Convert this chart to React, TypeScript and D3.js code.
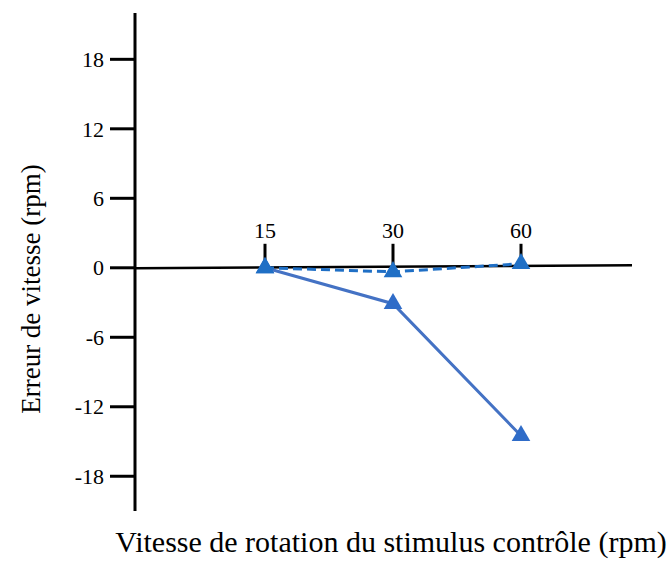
import React from "react";
import * as d3 from "d3";

const categories = ["15", "30", "60"];
const solidSeries = [0, -3.1, -14.5];
const dashedSeries = [0, -0.35, 0.35];
const yTicks = [18, 12, 6, 0, -6, -12, -18];

const W = 670;
const H = 561;

export default function App() {
  const x = d3.scalePoint<string>().domain(categories).range([265, 521]);
  const y = d3.scaleLinear().domain([-21, 22]).range([511, 13]);
  const line = d3
    .line<number>()
    .x((_, i) => x(categories[i]) as number)
    .y((d) => y(d));
  const tri = d3.symbol().type(d3.symbolTriangle).size(150)() as string;
  const font = "Liberation Serif, DejaVu Serif, Times New Roman, serif";
  const x0 = 135;
  const y0 = y(0);
  return (
    <svg
      width={W}
      height={H}
      style={{ position: "absolute", left: 0, top: 0, background: "#fff", fontFamily: font }}
    >
      {/* y axis */}
      <line x1={x0} x2={x0} y1={13} y2={511} stroke="#000" strokeWidth={3} />
      {yTicks.map((t) => (
        <g key={t}>
          <line x1={110} x2={x0} y1={y(t)} y2={y(t)} stroke="#000" strokeWidth={3} />
          <text x={104} y={y(t)} dy="0.35em" textAnchor="end" fontSize={22} fill="#000" style={{ fontFamily: font }}>
            {t}
          </text>
        </g>
      ))}
      {/* x axis at zero */}
      <line x1={x0} x2={632} y1={y0 + 0.5} y2={y0 - 2.5} stroke="#000" strokeWidth={2.5} />
      {categories.map((c) => (
        <g key={c}>
          <line x1={x(c)} x2={x(c)} y1={y0} y2={y0 - 24} stroke="#000" strokeWidth={3} />
          <text x={x(c)} y={y0 - 30} textAnchor="middle" fontSize={22} fill="#000" style={{ fontFamily: font }}>
            {c}
          </text>
        </g>
      ))}
      {/* series */}
      <path d={line(solidSeries) as string} fill="none" stroke="#4472C4" strokeWidth={3} />
      <path
        d={line(dashedSeries) as string}
        fill="none"
        stroke="#1F6FC5"
        strokeWidth={3}
        strokeDasharray="9,5"
      />
      {solidSeries.map((v, i) => (
        <path
          key={"s" + i}
          d={tri}
          transform={`translate(${x(categories[i])},${y(v)})`}
          fill="#2F6CC8"
        />
      ))}
      {dashedSeries.map((v, i) => (
        <path
          key={"d" + i}
          d={tri}
          transform={`translate(${x(categories[i])},${y(v)})`}
          fill="#1F6FC5"
        />
      ))}
      {/* titles */}
      <text x={391} y={552} textAnchor="middle" fontSize={30} fill="#000" style={{ fontFamily: font }}>
        Vitesse de rotation du stimulus contrôle (rpm)
      </text>
      <text
        transform={`translate(40,289) rotate(-90)`}
        textAnchor="middle"
        fontSize={27}
        fill="#000"
        style={{ fontFamily: font }}
      >
        Erreur de vitesse (rpm)
      </text>
    </svg>
  );
}
